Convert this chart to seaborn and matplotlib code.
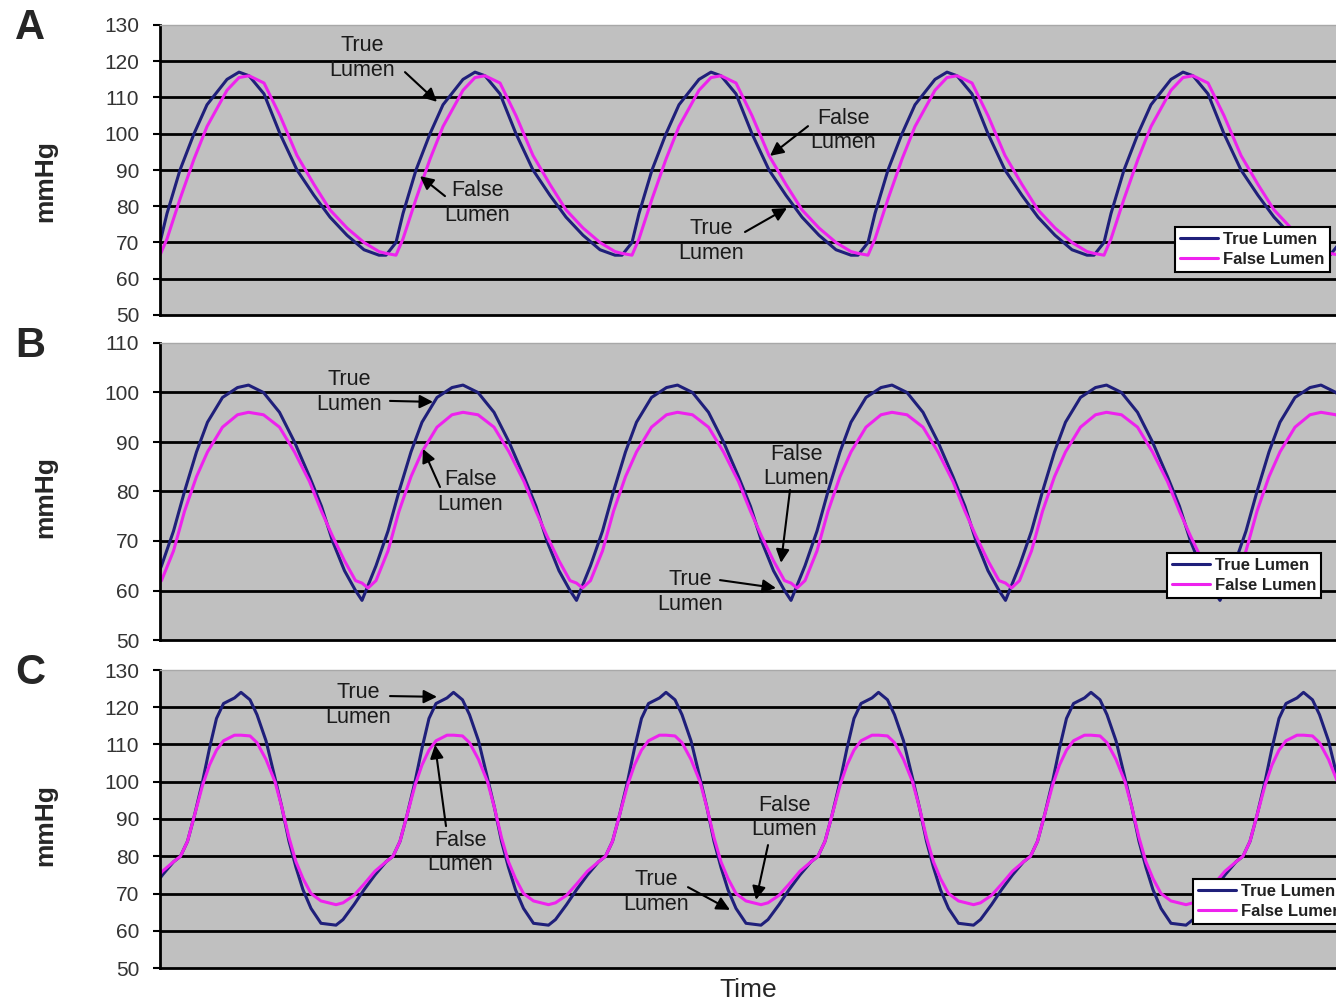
import numpy as np
import pandas as pd
import matplotlib
matplotlib.use('Agg')
import matplotlib.pyplot as plt
import seaborn as sns

# one beat per panel; time in arbitrary units from the beat start
a_t = [0, 10, 17, 30, 44, 57, 77, 89, 99, 114, 130, 147, 164, 180, 197, 214, 229, 236]
a_true = [66.5, 70, 78, 90, 100, 108, 115, 117, 116, 111, 100, 90, 83, 77, 72, 68, 66.5, 66.5]
a_false = [67, 66.5, 71, 82, 93, 102, 112, 115.5, 116, 114, 105, 94, 86, 79, 74, 70, 67.5, 67]
a_period = 236
a_start = -10

b_t = [0, 6, 14, 26, 37, 49, 60, 75, 90, 101, 116, 132, 147, 162, 174, 185, 197, 208, 214.5]
b_true = [58, 61, 65, 72, 80, 88, 94, 99, 101, 101.5, 100, 96, 90, 83, 77, 70, 64, 60, 58]
b_false = [61.5, 60.5, 62, 68, 76, 83, 88, 93, 95.5, 96, 95.5, 93, 88, 82, 76, 71, 66, 62, 61.5]
b_period = 214.5
b_start = -12.5

c_t = [0, 9, 16, 25, 34, 41, 48, 55, 62, 70, 80, 95, 102, 113, 123, 134, 145, 152, 159, 166,
       174, 181, 188, 195, 206, 212.5]
c_true = [124, 122, 118, 111, 101, 93, 84, 77, 71, 66, 62, 61.5, 63, 67, 71, 75, 78.5, 80, 84, 91,
          100, 109, 117, 121, 122.5, 124]
c_false = [112.5, 112.3, 110.5, 106, 100, 93, 85, 78.5, 74, 70, 68, 67, 67.5, 69.5, 72.5, 76, 78.5, 80, 84, 91,
           99, 104.5, 108.5, 111, 112.5, 112.5]
c_period = 212.5
c_start = -131.5

labels = ['True Lumen', 'False Lumen']
colors = {'True Lumen': '#1f1f7a', 'False Lumen': '#ee22ee'}


def build(t, v_true, v_false, period, start, n):
    rows = []
    for k in range(n):
        for ti, vt, vf in zip(t[:-1], v_true[:-1], v_false[:-1]):
            x = start + k * period + ti
            rows.append((x, vt, 'True Lumen'))
            rows.append((x, vf, 'False Lumen'))
    return pd.DataFrame(rows, columns=['Time', 'mmHg', 'Lumen'])


sns.set_style('white')
plt.rcParams['font.family'] = ['Liberation Sans', 'DejaVu Sans']

fig = plt.figure(figsize=(13.36, 10.05), dpi=100)

W, H = 1336, 1005
panels = [
    ('A', build(a_t, a_true, a_false, a_period, a_start, 7), 25, 315, (50, 130), 181,
     (0.853, 0.303),
     [('True\nLumen', (202, 120.9), (245, 117.0), (277, 108.8)),
      ('False\nLumen', (317, 80.9), (285, 82.8), (260, 88.3)),
      ('False\nLumen', (683, 101.0), (648, 102.1), (610, 93.9)),
      ('True\nLumen', (551, 70.4), (585, 72.9), (627, 79.5))]),
    ('B', build(b_t, b_true, b_false, b_period, b_start, 7), 343, 640, (50, 110), 497,
     (0.846, 0.293),
     [('True\nLumen', (189, 100.1), (230, 98.3), (273, 98.1)),
      ('False\nLumen', (310, 79.9), (280, 80.9), (263, 88.6)),
      ('False\nLumen', (636, 85.0), (630, 80.3), (621, 65.6)),
      ('True\nLumen', (530, 59.7), (560, 62.1), (616, 60.5))]),
    ('C', build(c_t, c_true, c_false, c_period, c_start, 8), 670, 968, (50, 130), 825,
     (0.868, 0.299),
     [('True\nLumen', (198, 120.6), (230, 123.0), (277, 122.8)),
      ('False\nLumen', (300, 80.9), (286, 88.1), (275, 109.9)),
      ('False\nLumen', (624, 90.3), (608, 83.0), (596, 68.3)),
      ('True\nLumen', (496, 70.4), (528, 71.7), (570, 65.6))]),
]

for letter, df, top, bottom, ylim, ylab_y, leg_pos, notes in panels:
    ax = fig.add_axes([160 / W, 1 - bottom / H, 1190 / W, (bottom - top) / H])
    ax.set_facecolor('#c0c0c0')
    sns.lineplot(data=df, x='Time', y='mmHg', hue='Lumen', hue_order=labels,
                 palette=colors, linewidth=2.2, ax=ax, legend=True)
    ax.set_xlim(0, 1190)
    ax.set_ylim(*ylim)
    ax.set_yticks(np.arange(ylim[0], ylim[1] + 1, 10))
    ax.set_xticks([])
    ax.set_xlabel('')
    ax.set_ylabel('')
    ax.set_axisbelow(True)
    ax.yaxis.grid(True, color='black', linewidth=2.0)
    ax.get_ygridlines()[-1].set_visible(False)
    ax.get_ygridlines()[0].set_visible(False)
    ax.tick_params(axis='y', length=5, width=1.5, color='black', pad=10, labelsize=15,
                   labelcolor='#333333', left=True)
    for side in ['left', 'bottom']:
        ax.spines[side].set_color('black')
        ax.spines[side].set_linewidth(2.0)
    ax.spines['top'].set_color('#a8a8a8')
    ax.spines['top'].set_linewidth(1.0)
    ax.spines['right'].set_visible(False)

    handles, labs = ax.get_legend_handles_labels()
    leg = ax.legend(handles, labs, loc='upper left', bbox_to_anchor=leg_pos,
                    frameon=True, fancybox=False, framealpha=1, edgecolor='black',
                    facecolor='white', fontsize=12, handlelength=2.3, handletextpad=0.3,
                    borderpad=0.3, labelspacing=0.3, borderaxespad=0)
    leg.get_frame().set_linewidth(1.5)
    for txt in leg.get_texts():
        txt.set_fontweight('bold')
        txt.set_color('#222222')

    for text, pos, tail, tip in notes:
        ax.text(pos[0], pos[1], text, ha='center', va='center', fontsize=15.5,
                color='#1a1a1a', multialignment='center')
        ax.annotate('', xy=tip, xytext=tail,
                    arrowprops=dict(arrowstyle='-|>', color='black', lw=1.5,
                                    mutation_scale=20, shrinkA=0, shrinkB=0))

    fig.text(30 / W, 1 - (top + 3) / H, letter, ha='center', va='center',
             fontsize=30, fontweight='bold')
    fig.text(45 / W, 1 - ylab_y / H, 'mmHg', rotation=90, ha='center', va='center',
             fontsize=19, fontweight='bold')

fig.text(748 / W, 1 - 990 / H, 'Time', ha='center', va='center', fontsize=19)

plt.savefig('out.png', dpi=100)
plt.close()
